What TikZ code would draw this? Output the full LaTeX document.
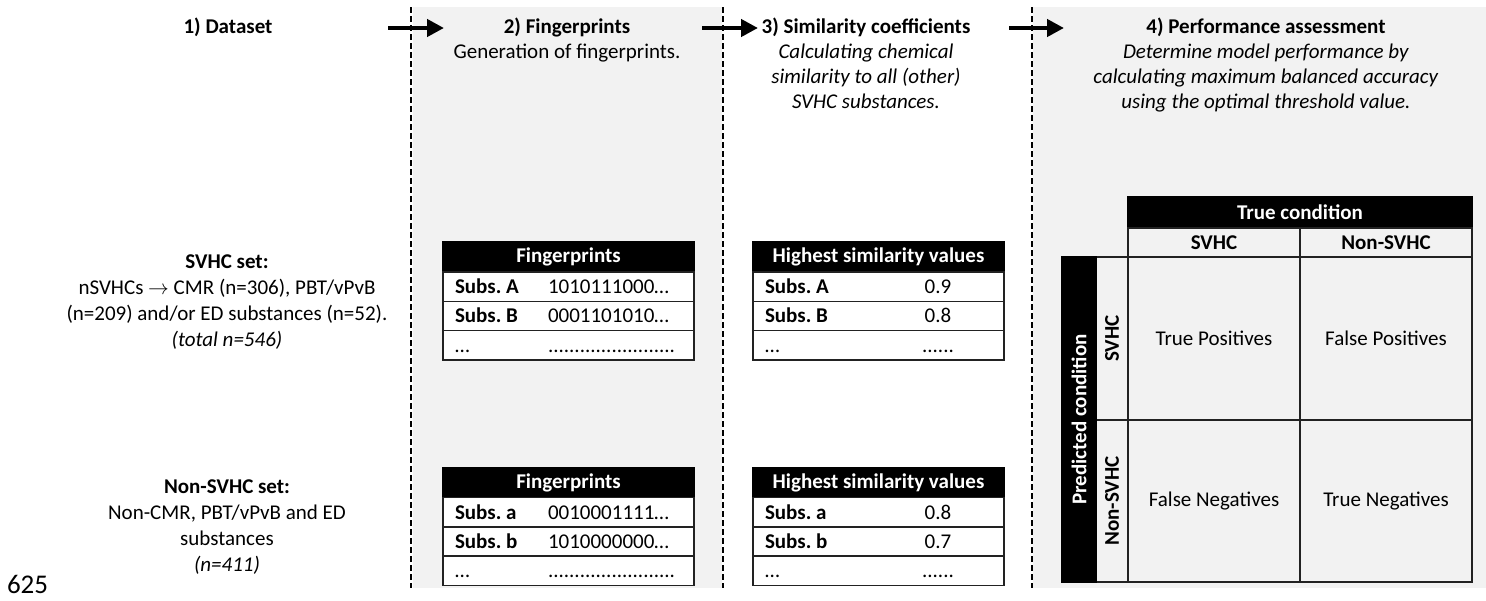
\documentclass[tikz,border=0pt]{standalone}
\usepackage{fontspec}
\setmainfont{Carlito}
\usetikzlibrary{arrows.meta,calc}
\definecolor{panelgray}{HTML}{F2F2F2}
\definecolor{rule}{HTML}{222222}
\frenchspacing
\newcommand{\mktab}[9]{%
  \node[hdr] (#1h) at (#2, #3+15) {#4};
  \node[tabrow] (#1r1) at (#2, #3+44.65) {};
  \node[tabrow] (#1r2) at (#2, #3+73.95) {};
  \node[tabrow] (#1r3) at (#2, #3+103.25) {};
  \node[lbl, font=\fontsize{21}{25}\selectfont\bfseries] (#1l1) at ($(#1r1.west)+(12,7)$) {#5};
  \node[lbl, font=\fontsize{21}{25}\selectfont\bfseries] (#1l2) at ($(#1r2.west)+(12,7)$) {#7};
  \node[lbl] (#1l3) at ($(#1r3.west)+(12,7)$) {\ldots};
  \node[val] (#1v1) at ($(#1r1.west)+(\valx,7)$) {#6};
  \node[val] (#1v2) at ($(#1r2.west)+(\valx,7)$) {#8};
  \node[val] (#1v3) at ($(#1r3.west)+(\valx,7)$) {#9};
}
\begin{document}
\begin{tikzpicture}[x=1pt,y=-1pt,
  every node/.style={font=\fontsize{21}{25}\selectfont, inner sep=0pt, outer sep=0pt},
  sep/.style={line width=2pt, dash pattern=on 6pt off 3pt},
  flow/.style={line width=4.8pt, -{Triangle[length=17pt,width=17pt]}},
  title/.style={anchor=north, align=center},
  hdr/.style={fill=black, draw=black, line width=1.2pt, text=white, font=\fontsize{21}{25}\selectfont\bfseries, minimum width=251pt, minimum height=30pt},
  tabrow/.style={fill=white, draw=rule, line width=1.5pt, minimum width=251pt, minimum height=29.3pt},
  lbl/.style={anchor=base west},
  val/.style={anchor=\valanchor},
  mhdr/.style={fill=black, draw=black, line width=1.5pt, text=white, font=\fontsize{21}{25}\selectfont\bfseries},
  mcell/.style={draw=rule, line width=1.8pt},
]
\useasboundingbox (0,0) rectangle (1486,600);
% panels
\fill[panelgray] (413,7) rectangle (722,588);
\fill[panelgray] (1033,7) rectangle (1486,588);
% separators
\coordinate (s1t) at (411,7); \coordinate (s1b) at (411,588);
\coordinate (s2t) at (723,7); \coordinate (s2b) at (723,588);
\coordinate (s3t) at (1032,7); \coordinate (s3b) at (1032,588);
\draw[sep] (s1t) -- (s1b);
\draw[sep] (s2t) -- (s2b);
\draw[sep] (s3t) -- (s3b);
% arrows
\coordinate (a1s) at (388,28); \coordinate (a1e) at (444,28);
\coordinate (a2s) at (702,28); \coordinate (a2e) at (758,28);
\coordinate (a3s) at (1009,28); \coordinate (a3e) at (1064,28);
\draw[flow] (a1s) -- (a1e);
\draw[flow] (a2s) -- (a2e);
\draw[flow] (a3s) -- (a3e);
% titles
\node[title] (t1) at (228,15.5) {\strut\textbf{1) Dataset}};
\node[title] (t2) at (567,15.5) {\strut\textbf{2) Fingerprints}\\\strut Generation of fingerprints.};
\node[title] (t3) at (866,15.5) {\strut\textbf{3) Similarity coefficients}\\\strut\textit{Calculating chemical}\\\strut\textit{similarity to all (other)}\\\strut\textit{SVHC substances.}};
\node[title] (t4) at (1266,15.5) {\strut\textbf{4) Performance assessment}\\\strut\textit{Determine model performance by}\\\strut\textit{calculating maximum balanced accuracy}\\\strut\textit{using the optimal threshold value.}};
% datasets
\node[title, font=\fontsize{21}{25.7}\selectfont] (svhc) at (227,251) {\strut\textbf{SVHC set:}\\\strut nSVHCs $\rightarrow$ CMR (n=306), PBT/vPvB\\\strut (n=209) and/or ED substances (n=52).\\\strut\textit{(total n=546)}};
\node[title, font=\fontsize{21}{25.7}\selectfont] (nsvhc) at (227,476) {\strut\textbf{Non-SVHC set:}\\\strut Non-CMR, PBT/vPvB and ED\\\strut substances\\\strut\textit{(n=411)}};
\node[anchor=base west, font=\fontsize{27}{32}\selectfont] (pg) at (7,593) {625};
% fingerprint tables
\def\valx{105}\def\valanchor{base west}
\mktab{fa}{568.5}{242}{Fingerprints}{Subs. A}{1010111000\ldots}{Subs. B}{0001101010\ldots}{........................}
\mktab{fb}{568.5}{467.5}{Fingerprints}{Subs. a}{0010001111\ldots}{Subs. b}{1010000000\ldots}{........................}
% similarity tables
\def\valx{185}\def\valanchor{base}
\mktab{sa}{878.5}{242}{Highest similarity values}{Subs. A}{0.9}{Subs. B}{0.8}{......}
\mktab{sb}{878.5}{467.5}{Highest similarity values}{Subs. a}{0.8}{Subs. b}{0.7}{......}
% confusion matrix
\node[mhdr, minimum width=344pt, minimum height=31pt] (tc) at (1300,212.5) {True condition};
\node[mcell, minimum width=172pt, minimum height=29pt] (cs) at (1214,242.5) {\textbf{SVHC}};
\node[mcell, minimum width=172pt, minimum height=29pt] (cn) at (1386,242.5) {\textbf{Non-SVHC}};
\node[mcell, minimum width=172pt, minimum height=163pt] (tp) at (1214,338.5) {True Positives};
\node[mcell, minimum width=172pt, minimum height=163pt] (fpos) at (1386,338.5) {False Positives};
\node[mcell, minimum width=172pt, minimum height=162pt] (fneg) at (1214,501) {False Negatives};
\node[mcell, minimum width=172pt, minimum height=162pt] (tn) at (1386,501) {True Negatives};
\node[mcell, rotate=90, minimum width=163pt, minimum height=32pt] (rs) at (1112,338.5) {\textbf{SVHC}};
\node[mcell, rotate=90, minimum width=162pt, minimum height=32pt] (rn) at (1112,501) {\textbf{Non-SVHC}};
\node[mhdr, rotate=90, minimum width=325pt, minimum height=34pt] (pc) at (1079,419.5) {Predicted condition};
\end{tikzpicture}
\end{document}
